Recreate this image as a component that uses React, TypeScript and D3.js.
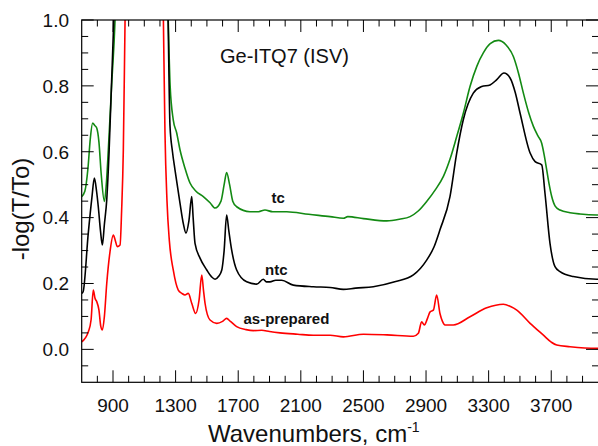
import React from "react";
import * as d3 from "d3";

// ---- data (wavenumber, -log(T/To)) ----
const asPreparedX = [700,742,760,774,785,796,810,822,832,845,860,881,902,915,927,945,955,966,977,990,1100,1210,1222,1232,1245,1260,1285,1317,1340,1360,1381,1403,1428,1450,1467,1478,1488,1520,1563,1600,1626,1650,1690,1750,1797,1850,1900,1967,2080,2180,2287,2372,2500,2650,2819,2851,2872,2889,2910,2926,2947,2968,2989,3005,3021,3074,3181,3288,3394,3440,3480,3565,3650,3700,3735,3820,3990,4000];
const asPreparedY = [0.023,0.053,0.09,0.18,0.155,0.145,0.12,0.07,0.059,0.1,0.2,0.297,0.347,0.33,0.312,0.317,0.42,0.606,1.0,1.4,1.8,1.4,1.0,0.66,0.45,0.33,0.241,0.18,0.17,0.165,0.17,0.14,0.109,0.15,0.226,0.18,0.14,0.089,0.079,0.085,0.094,0.085,0.069,0.06,0.057,0.058,0.054,0.05,0.046,0.043,0.043,0.038,0.046,0.044,0.04,0.049,0.084,0.074,0.095,0.114,0.119,0.165,0.109,0.085,0.074,0.074,0.099,0.126,0.137,0.13,0.119,0.079,0.043,0.022,0.013,0.008,0.003,0.003];

const ntcX = [700,709,742,765,781,795,806,820,832,845,860,875,890,905,920,1100,1240,1252,1264,1280,1296,1328,1350,1366,1385,1403,1412,1424,1456,1499,1530,1552,1575,1595,1610,1626,1640,1658,1690,1754,1818,1860,1880,1903,1940,1978,2052,2180,2287,2372,2450,2563,2700,2819,2904,2950,2989,3053,3096,3138,3202,3256,3309,3352,3398,3437,3470,3501,3565,3597,3639,3660,3692,3724,3756,3841,3990,4000];
const ntcY = [0.17,0.175,0.353,0.46,0.52,0.48,0.433,0.36,0.317,0.38,0.454,0.6,0.8,1.0,1.3,1.8,1.3,1.0,0.68,0.6,0.545,0.444,0.38,0.353,0.39,0.464,0.4,0.322,0.277,0.241,0.22,0.213,0.222,0.241,0.3,0.408,0.36,0.302,0.241,0.205,0.198,0.213,0.205,0.205,0.21,0.21,0.195,0.19,0.188,0.182,0.186,0.19,0.205,0.226,0.271,0.31,0.363,0.464,0.596,0.697,0.778,0.798,0.803,0.819,0.839,0.824,0.78,0.717,0.596,0.57,0.56,0.474,0.322,0.251,0.236,0.221,0.213,0.213];

const tcX = [700,720,740,755,770,783,796,810,825,845,857,870,892,913,930,1100,1240,1253,1265,1285,1307,1328,1360,1392,1430,1477,1520,1552,1590,1610,1626,1645,1665,1690,1775,1830,1871,1920,1967,2010,2150,2287,2372,2400,2500,2649,2730,2798,2850,2904,2960,3011,3055,3096,3140,3181,3225,3266,3310,3362,3410,3458,3490,3522,3555,3586,3615,3639,3655,3671,3687,3703,3725,3756,3820,3884,3990,4000];
const tcY = [0.464,0.48,0.55,0.64,0.687,0.68,0.672,0.63,0.53,0.449,0.5,0.605,0.808,1.0,1.3,1.8,1.3,1.0,0.8,0.697,0.657,0.606,0.55,0.505,0.48,0.464,0.445,0.429,0.45,0.5,0.537,0.5,0.45,0.433,0.418,0.418,0.423,0.418,0.418,0.418,0.41,0.403,0.398,0.403,0.397,0.39,0.395,0.403,0.42,0.449,0.485,0.525,0.58,0.646,0.72,0.798,0.86,0.9,0.928,0.938,0.925,0.889,0.84,0.778,0.72,0.677,0.648,0.626,0.59,0.545,0.5,0.464,0.435,0.423,0.415,0.411,0.408,0.408];

const xMajorTicks = [900,1300,1700,2100,2500,2900,3300,3700];
const yMajorTicks = [0.0,0.2,0.4,0.6,0.8,1.0];

const W = 598, H = 446;
const L = 81.7, R = 598.2, T = 20, B = 382.3;

export default function App() {
  const x = d3.scaleLinear().domain([700, 4000]).range([L, R]);
  const y = d3.scaleLinear().domain([-0.1, 1.0]).range([B, T]);
  const line = d3.line<[number, number]>()
    .x(d => x(d[0])).y(d => y(d[1])).curve(d3.curveMonotoneX);
  const mk = (xs: number[], ys: number[]) => xs.map((v, i) => [v, ys[i]] as [number, number]);

  const series = [
    { xs: tcX, ys: tcY, color: "#138a13" },
    { xs: ntcX, ys: ntcY, color: "#000000" },
    { xs: asPreparedX, ys: asPreparedY, color: "#ff0000" },
  ];

  const xMinor = d3.range(800, 4000, 100).filter(v => !xMajorTicks.includes(v));
  const yAll = d3.range(-0.05, 1.0001, 0.05).map(v => Math.round(v * 100) / 100);
  const yMinor = yAll.filter(v => !yMajorTicks.some(m => Math.abs(m - v) < 1e-6));

  const font = "Liberation Sans, Arial, Helvetica, sans-serif";

  return (
    <svg width={W} height={H} style={{ position: "absolute", left: 0, top: 0, background: "#fff" }} fontFamily={font}>
      <defs>
        <clipPath id="plot">
          <rect x={L} y={T} width={R - L} height={B - T} />
        </clipPath>
      </defs>
      <g clipPath="url(#plot)">
        {series.map((s, i) => (
          <path key={i} d={line(mk(s.xs, s.ys)) || ""} fill="none" stroke={s.color} strokeWidth={1.6} strokeLinejoin="round" />
        ))}
      </g>
      {/* frame */}
      <rect x={L} y={T} width={R - L + 1} height={B - T} fill="none" stroke="#000" strokeWidth={1.2} />
      {/* x ticks */}
      {xMajorTicks.map(v => (
        <g key={"xm" + v}>
          <line x1={x(v)} x2={x(v)} y1={B} y2={B - 12} stroke="#000" />
          <line x1={x(v)} x2={x(v)} y1={T} y2={T + 12} stroke="#000" />
          <text x={x(v)} y={412} textAnchor="middle" fontSize={19} fill="#111">{v}</text>
        </g>
      ))}
      {xMinor.map(v => (
        <g key={"xn" + v}>
          <line x1={x(v)} x2={x(v)} y1={B} y2={B - 6.5} stroke="#000" />
          <line x1={x(v)} x2={x(v)} y1={T} y2={T + 6.5} stroke="#000" />
        </g>
      ))}
      {/* y ticks */}
      {yMajorTicks.map(v => (
        <g key={"ym" + v}>
          <line x1={L} x2={L + 12} y1={y(v)} y2={y(v)} stroke="#000" />
          <line x1={598} x2={598 - 12} y1={y(v)} y2={y(v)} stroke="#000" />
          <text x={69} y={y(v)} dy="0.36em" textAnchor="end" fontSize={19} fill="#111">{v.toFixed(1)}</text>
        </g>
      ))}
      {yMinor.map(v => (
        <g key={"yn" + v}>
          <line x1={L} x2={L + 6.5} y1={y(v)} y2={y(v)} stroke="#000" />
          <line x1={598} x2={598 - 6} y1={y(v)} y2={y(v)} stroke="#000" />
        </g>
      ))}
      {/* axis titles */}
      <text x={208} y={441.5} fontSize={24} fill="#111">
        Wavenumbers, cm<tspan fontSize={14} dy={-10}>-1</tspan>
      </text>
      <text transform="translate(29,209) rotate(-90)" textAnchor="middle" fontSize={24} fill="#111">-log(T/To)</text>
      {/* annotations */}
      <text x={220} y={63} fontSize={20} fill="#111">Ge-ITQ7 (ISV)</text>
      <text x={271.5} y={203} fontSize={15} fontWeight="bold" fill="#111">tc</text>
      <text x={265} y={275} fontSize={15} fontWeight="bold" fill="#111">ntc</text>
      <text x={243.5} y={324} fontSize={15} fontWeight="bold" fill="#111">as-prepared</text>
    </svg>
  );
}
